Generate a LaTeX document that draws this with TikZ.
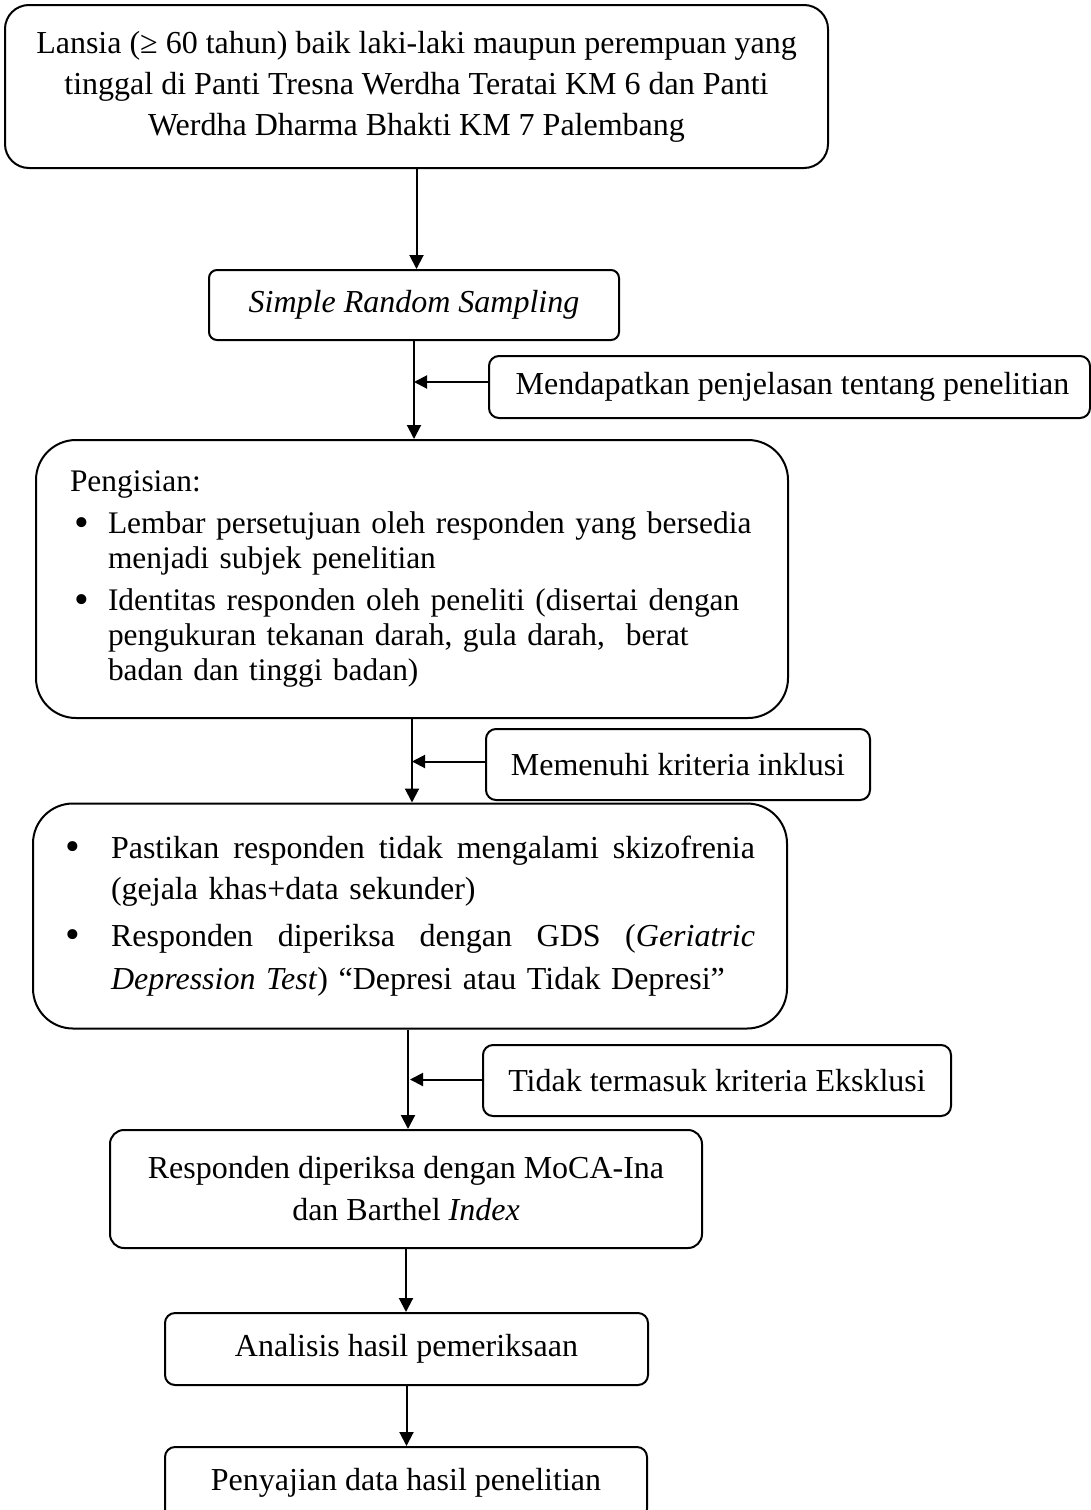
\documentclass[tikz,border=0pt]{standalone}
\usepackage{fontspec}
\setmainfont{Liberation Serif}
\usetikzlibrary{arrows.meta}
\newcommand{\bigdot}{\raisebox{-1.3pt}{\fontsize{21}{0}\selectfont\textbullet}}
\newcommand{\bul}{\makebox[19pt][l]{\hspace{2pt}\bigdot}}
\newcommand{\ind}{\hspace*{19pt}}
\newcommand{\bulb}{\makebox[23pt][l]{\bigdot}}
\newcommand{\indb}{\hspace*{23pt}}
\begin{document}
\begin{tikzpicture}[x=0.5pt,y=-0.5pt,
  box/.style={draw,line width=1pt,rectangle,inner sep=0pt,
    font=\fontsize{16}{20.5}\selectfont,align=center},
  arr/.style={line width=1pt,-{Triangle[length=7pt,width=7pt]}},
  sarr/.style={line width=1pt,-{Triangle[length=6.5pt,width=6.5pt]}}]
\useasboundingbox (0,0) rectangle (1091,1510);

\node[box,rounded corners=12pt,minimum width=411.5pt,minimum height=81.5pt] (b1) at (416.5,86.5)
  {Lansia (≥ 60 tahun) baik laki-laki maupun perempuan yang\\
   tinggal di Panti Tresna Werdha Teratai KM 6 dan Panti\\
   Werdha Dharma Bhakti KM 7 Palembang};

\node[box,rounded corners=4pt,minimum width=205pt,minimum height=35pt] (b2) at (414,305)
  {\itshape Simple Random Sampling};

\node[box,rounded corners=5pt,minimum width=300.5pt,minimum height=31pt] (s1) at (789.5,387)
  {\hspace*{3pt}Mendapatkan penjelasan tentang penelitian};

\node[box,rounded corners=20pt,minimum width=376pt,minimum height=139pt,
  text width=342pt,align=left,font=\fontsize{15.7}{17.5}\selectfont] (b3) at (412,579)
  {\mbox{Pengisian:}\\[3.5pt]
   \mbox{\bul Lembar persetujuan oleh responden yang bersedia}\\
   \mbox{\ind menjadi subjek penelitian}\\[3.5pt]
   \mbox{\bul Identitas responden oleh peneliti (disertai dengan}\\
   \mbox{\ind pengukuran tekanan darah, gula darah,\ \ berat}\\
   \mbox{\ind badan dan tinggi badan)}};

\node[box,rounded corners=5pt,minimum width=192pt,minimum height=35.5pt] (s2) at (678,764.5)
  {Memenuhi kriteria inklusi};

\node[box,rounded corners=20pt,minimum width=377pt,minimum height=112.5pt,
  text width=345pt,align=left,font=\fontsize{16}{21}\selectfont] (b4) at (410,916)
  {\mbox{\bulb\makebox[322pt][l]{Pastikan\hfill responden\hfill tidak\hfill mengalami\hfill skizofrenia}}\\[-0.5pt]
   \mbox{\indb(gejala khas+data sekunder)}\\[2.5pt]
   \mbox{\bulb\makebox[322pt][l]{Responden\hfill diperiksa\hfill dengan\hfill GDS\hfill (\textit{Geriatric}}}\\[0.5pt]
   \mbox{\indb\textit{Depression Test}) “Depresi atau Tidak Depresi”}};

\node[box,rounded corners=5pt,minimum width=234pt,minimum height=35.5pt] (s3) at (717,1080.5)
  {Tidak termasuk kriteria Eksklusi};

\node[box,rounded corners=7pt,minimum width=296pt,minimum height=59pt,
  font=\fontsize{16}{21}\selectfont] (b5) at (406,1189)
  {Responden diperiksa dengan MoCA-Ina\\ dan Barthel \textit{Index}};

\node[box,rounded corners=5pt,minimum width=241.5pt,minimum height=36pt] (b6) at (406.5,1349)
  {Analisis hasil pemeriksaan};

\node[box,rounded corners=5pt,minimum width=241pt,minimum height=36pt] (b7) at (406,1483)
  {Penyajian data hasil penelitian};

\draw[arr] (b1.south) -- (b1.south |- b2.north);
\draw[arr] (b2.south) -- (b2.south |- b3.north);
\draw[arr] (b3.south) -- (b3.south |- b4.north);
\draw[arr] ([xshift=-1pt]b4.south) -- ([xshift=-1pt]b4.south |- b5.north);
\draw[arr] (b5.south) -- (b5.south |- b6.north);
\draw[arr] (b6.south) -- (b6.south |- b7.north);

\draw[sarr] ([yshift=2.5pt]s1.west) -- ([yshift=2.5pt]s1.west -| b2.south);
\draw[sarr] ([yshift=1.5pt]s2.west) -- ([yshift=1.5pt]s2.west -| b3.south);
\draw[sarr] ([yshift=0.5pt]s3.west) -- ([yshift=0.5pt]s3.west -| b4.south);
\end{tikzpicture}
\end{document}
